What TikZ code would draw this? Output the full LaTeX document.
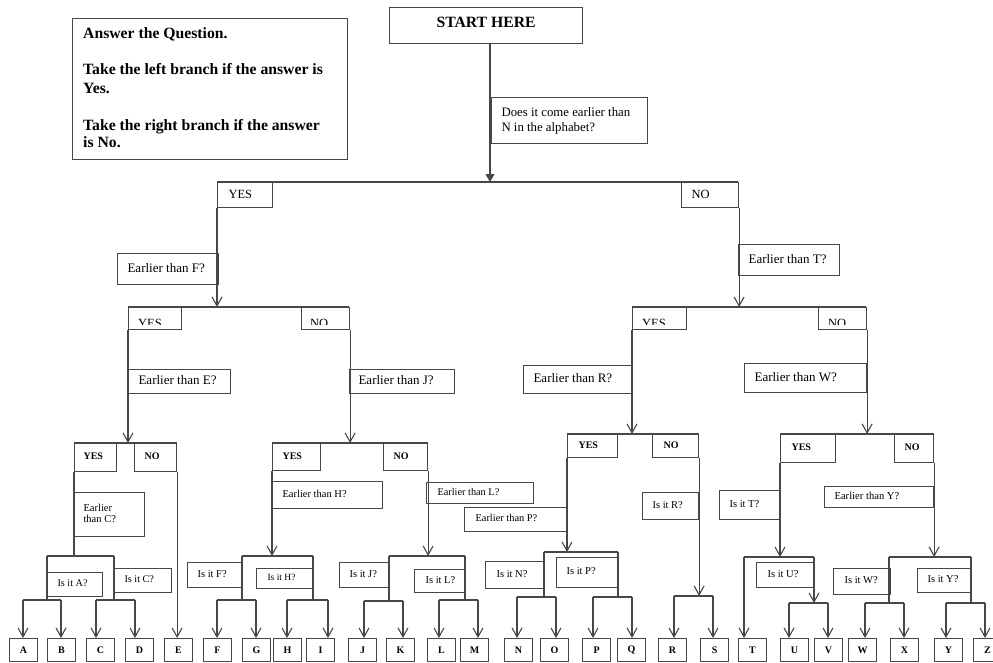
\documentclass[tikz,border=0pt]{standalone}
\usepackage{fontspec}
\setmainfont{Liberation Serif}
\usetikzlibrary{arrows.meta}
\definecolor{rule}{HTML}{474747}
\newcommand\fsz[2]{\fontsize{#1}{#2}\selectfont}
% question box: name, x1, y1, x2, y2, left padding, font, text (lines split by \\)
\newcommand\qnode[8]{%
  \pgfmathsetmacro\qnt{#4-#2-2*#6}%
  \node[qbox, font=#7, minimum width={#4pt-#2pt}, minimum height={#5pt-#3pt},
        inner xsep=#6pt] (#1) at (#2,#3)
        {\makebox[\qnt pt][l]{\begin{tabular}{@{}l@{}}#8\end{tabular}}};}
% answer box whose label is cut off by the box bottom: name, x1, y1, x2, y2, text x, text
\newcommand\cutnode[7]{%
  \node[qbox, minimum width={#4pt-#2pt}, minimum height={#5pt-#3pt}] (#1) at (#2,#3) {};
  \begin{scope}
    \clip (#2,#3) rectangle (#4,#5-4.5);
    \node[anchor=base west, inner sep=0pt, font=\fsz{12.5}{15}] (#1t) at (#6,#5-2) {#7};
  \end{scope}}
\tikzset{
  wire/.style={draw=rule, line width=1.1pt},
  arrowdown/.style={wire, -{Straight Barb[length=9pt,width=10pt]}},
  firstdrop/.style={wire, -{Triangle[length=8pt,width=9pt]}},
  qbox/.style={wire, anchor=north west, inner ysep=0pt},
  lbox/.style={wire, anchor=north west, minimum width=28pt, minimum height=23pt,
               inner sep=0pt, font=\fsz{10}{12}\bfseries},
  note/.style={anchor=base west, inner sep=0pt, font=\fsz{15.7}{18}\bfseries},
}
\begin{document}
\begin{tikzpicture}[x=1pt, y=-1pt]
\useasboundingbox (0,0) rectangle (993,662);

% ---------- instructions ----------
\node[wire, anchor=north west, minimum width=275pt, minimum height=141pt] (notes) at (72,18) {};
\node[note] (n1) at (83,38.5) {Answer the Question.};
\node[note] (n2) at (83,74.5) {Take the left branch if the answer is};
\node[note] (n3) at (83,93.5) {Yes.};
\node[note] (n4) at (83,130.5) {Take the right branch if the answer};
\node[note] (n5) at (83,147.5) {is No.};

% ---------- root ----------
\node[wire, anchor=north west, minimum width=193pt, minimum height=36pt, text depth=6pt,
      font=\fsz{15.7}{18}\bfseries] (start) at (389,7) {START HERE};
\qnode{q1}{491}{97}{647}{143}{10}{\fsz{12.8}{15}}{Does it come earlier than\\N in the alphabet?}

\coordinate (b1l) at (217,182); \coordinate (b1r) at (738,182); \coordinate (b1m) at (490,182);
\draw[firstdrop] (start.south -| b1m) -- (b1m);
\draw[wire] (b1l) -- (b1r);
\qnode{yes1}{217}{182}{272}{207}{11}{\fsz{12.5}{15}}{YES}
\qnode{no1}{681}{182}{738}{207}{10}{\fsz{12.5}{15}}{NO}

% ---------- level 2 ----------
\qnode{qf}{117}{253}{218}{284}{10}{\fsz{13}{15}}{Earlier than F?}
\qnode{qt}{738}{244}{839}{275}{10}{\fsz{13}{15}}{Earlier than T?}

\coordinate (b2a) at (128,307); \coordinate (b2b) at (349,307);
\coordinate (b2c) at (632,307); \coordinate (b2d) at (866,307);
\draw[arrowdown] (yes1.south west) -- (yes1.south west |- b2a);
\draw[arrowdown] (no1.south east) -- (no1.south east |- b2c);
\draw[wire] (b2a) -- (b2b);
\draw[wire] (b2c) -- (b2d);
\cutnode{yes2l}{128}{307}{181}{329}{138}{YES}
\cutnode{no2l}{301}{307}{349}{329}{310}{NO}
\cutnode{yes2r}{632}{307}{686}{329}{642}{YES}
\cutnode{no2r}{818}{307}{866}{329}{828}{NO}

\qnode{qe}{128}{369}{230}{393}{10}{\fsz{13}{15}}{Earlier than E?}
\qnode{qj}{349}{369}{454}{393}{9}{\fsz{13}{15}}{Earlier than J?}
\qnode{qr}{523}{365}{632}{393}{10}{\fsz{13}{15}}{Earlier than R?}
\qnode{qw}{744}{363}{866}{392}{10}{\fsz{13}{15}}{Earlier than W?}

% ---------- level 3 ----------
\qnode{yes3a}{74}{443}{116}{471}{9}{\fsz{10}{12}\bfseries}{YES}
\qnode{no3a}{134}{443}{176}{471}{10}{\fsz{10}{12}\bfseries}{NO}
\qnode{yes3b}{272}{443}{320}{470}{10}{\fsz{10}{12}\bfseries}{YES}
\qnode{no3b}{383}{443}{427}{470}{10}{\fsz{10}{12}\bfseries}{NO}
\qnode{yes3c}{567}{434}{617}{457}{11}{\fsz{10}{12}\bfseries}{YES}
\qnode{no3c}{652}{434}{698}{457}{11}{\fsz{10}{12}\bfseries}{NO}
\qnode{yes3d}{780}{434}{835}{462}{11}{\fsz{10}{12}\bfseries}{YES}
\qnode{no3d}{894}{434}{933}{462}{10}{\fsz{10}{12}\bfseries}{NO}

\draw[arrowdown] (yes2l.south west) -- (yes2l.south west |- yes3a.north);
\draw[arrowdown] (no2l.south east) -- (no2l.south east |- yes3b.north);
\draw[arrowdown] (yes2r.south west) -- (yes2r.south west |- yes3c.north);
\draw[arrowdown] (no2r.south east) -- (no2r.south east |- yes3d.north);
\draw[wire] (yes3a.north west) -- (no3a.north east);
\draw[wire] (yes3b.north west) -- (no3b.north east);
\draw[wire] (yes3c.north west) -- (no3c.north east);
\draw[wire] (yes3d.north west) -- (no3d.north east);

\qnode{qc}{74}{492}{144}{536}{9}{\fsz{10.5}{11}}{Earlier\\than C?}
\qnode{qh}{272}{481}{382}{508}{10}{\fsz{10.5}{12}}{Earlier than H?}
\qnode{ql}{426}{482}{533}{503}{11}{\fsz{10.3}{12}}{Earlier than L?}
\qnode{qp}{464}{507}{567}{531}{11}{\fsz{10.4}{12}}{Earlier than P?}
\qnode{qisr}{642}{492}{698}{519}{10}{\fsz{10.5}{12}}{Is it R?}
\qnode{qist}{719}{490}{780}{519}{10}{\fsz{10.5}{12}}{Is it T?}
\qnode{qy}{824}{486}{933}{507}{10}{\fsz{10.6}{12}}{Earlier than Y?}

% ---------- level 4 ----------
\qnode{isa}{47}{572}{102}{596}{10}{\fsz{10.2}{12}}{Is it A?}
\qnode{isc}{114}{568}{171}{592}{10}{\fsz{10.2}{12}}{Is it C?}
\qnode{isf}{187}{562}{242}{587}{10}{\fsz{10.5}{12}}{Is it F?}
\qnode{ish}{256}{568}{313}{588}{11}{\fsz{9.5}{11}}{Is it H?}
\qnode{isj}{339}{562}{389}{587}{10}{\fsz{10.5}{12}}{Is it J?}
\qnode{isl}{414}{569}{465}{592}{11}{\fsz{10.5}{12}}{Is it L?}
\qnode{isn}{485}{561}{544}{588}{11}{\fsz{10.5}{12}}{Is it N?}
\qnode{isp}{556}{557}{618}{587}{10}{\fsz{10.5}{12}}{Is it P?}
\qnode{isu}{756}{562}{814}{587}{11}{\fsz{10.5}{12}}{Is it U?}
\qnode{isw}{833}{568}{890}{594}{11}{\fsz{10.5}{12}}{Is it W?}
\qnode{isy}{917}{568}{971}{592}{10}{\fsz{10.5}{12}}{Is it Y?}

\coordinate (c4a) at (47,556);  \coordinate (c4b) at (114,556);
\coordinate (c4c) at (242,556); \coordinate (c4d) at (313,556);
\coordinate (c4e) at (389,556); \coordinate (c4f) at (465,556);
\coordinate (c4g) at (544,552); \coordinate (c4h) at (618,552);
\coordinate (c4i) at (744,557); \coordinate (c4j) at (814,557);
\coordinate (c4k) at (889,557); \coordinate (c4l) at (971,557);
\draw[wire] (yes3a.south west) -- (yes3a.south west |- c4a);
\draw[arrowdown] (yes3b.south west) -- (yes3b.south west |- c4c);
\draw[arrowdown] (no3b.south east) -- (no3b.south east |- c4e);
\draw[arrowdown] (yes3c.south west) -- (yes3c.south west |- c4g);
\draw[arrowdown] (yes3d.south west) -- (yes3d.south west |- c4i);
\draw[arrowdown] (no3d.south east) -- (no3d.south east |- c4k);
\draw[wire] (c4a) -- (c4b);
\draw[wire] (c4c) -- (c4d);
\draw[wire] (c4e) -- (c4f);
\draw[wire] (c4g) -- (c4h);
\draw[wire] (c4i) -- (c4j);
\draw[wire] (c4k) -- (c4l);

% ---------- letters ----------
\foreach \L/\x in {A/9,B/47,C/86,D/125,E/164,F/203,G/242,H/273,I/306,J/348,K/386,L/427,
                   M/460,N/504,O/540,P/582,Q/617,R/658,S/700,T/738,U/780,V/814,W/848,
                   X/890,Y/934,Z/973}
  \node[lbox] (let\L) at (\x,638) {\L};

% forks above pairs of letters
\foreach \xa/\xb/\y/\La/\Lb in {23/61/600/A/B, 96/135/600/C/D, 217/256/600/F/G,
    287/328/600/H/I, 364/403/601/J/K, 439/478/600/L/M, 517/556/597/N/O,
    593/632/597/P/Q, 674/713/596/R/S, 789/828/603/U/V, 865/904/603/W/X,
    946/985/603/Y/Z}{
  \coordinate (fk\La) at (\xa,\y);
  \coordinate (fk\Lb) at (\xb,\y);
  \draw[wire] (fk\La) -- (fk\Lb);
  \draw[arrowdown] (fk\La) -- (fk\La |- let\La.north);
  \draw[arrowdown] (fk\Lb) -- (fk\Lb |- let\Lb.north);
}

% stems into the forks
\draw[wire] (c4a) -- (c4a |- fkA);
\draw[wire] (c4b) -- (c4b |- fkC);
\draw[wire] (c4c) -- (c4c |- fkF);
\draw[wire] (c4d) -- (c4d |- fkH);
\draw[wire] (c4e) -- (c4e |- fkJ);
\draw[wire] (c4f) -- (c4f |- fkL);
\draw[wire] (c4g) -- (c4g |- fkN);
\draw[wire] (c4h) -- (c4h |- fkP);
\draw[wire] (c4k) -- (c4k |- fkW);
\draw[wire] (c4l) -- (c4l |- fkY);
\draw[arrowdown] (c4j) -- (c4j |- fkU);
\draw[arrowdown] (no3c.south east) -- (no3c.south east |- fkR);
\draw[arrowdown] (no3a.south east) -- (no3a.south east |- letE.north);
\draw[arrowdown] (c4i) -- (c4i |- letT.north);
\end{tikzpicture}
\end{document}
